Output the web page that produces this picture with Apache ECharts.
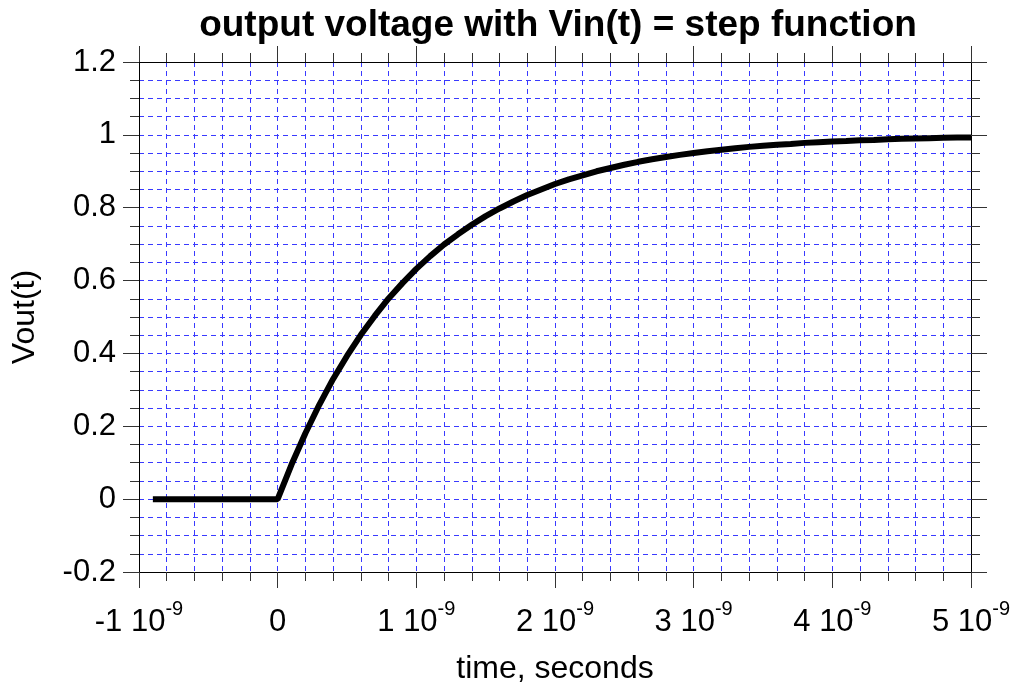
<!DOCTYPE html>
<html>
<head>
<meta charset="utf-8">
<script src="https://cdn.jsdelivr.net/npm/echarts@6/dist/echarts.min.js"></script>
<style>
  html, body { margin: 0; padding: 0; background: #fff; }
  #chart { width: 1018px; height: 690px; }
</style>
</head>
<body>
<div id="chart"></div>
<script>
// time in units of 1e-9 s
var timeNs = [-0.9, 0, 0.1, 0.2, 0.3, 0.4, 0.5, 0.6, 0.7, 0.8, 0.9,
  1.0, 1.1, 1.2, 1.3, 1.4, 1.5, 1.6, 1.7, 1.8, 1.9,
  2.0, 2.1, 2.2, 2.3, 2.4, 2.5, 2.6, 2.7, 2.8, 2.9,
  3.0, 3.1, 3.2, 3.3, 3.4, 3.5, 3.6, 3.7, 3.8, 3.9,
  4.0, 4.1, 4.2, 4.3, 4.4, 4.5, 4.6, 4.7, 4.8, 4.9, 5.0];
var vout = [0, 0, 0.095, 0.181, 0.259, 0.330, 0.393, 0.451, 0.503, 0.551, 0.593,
  0.632, 0.667, 0.699, 0.727, 0.753, 0.777, 0.798, 0.817, 0.835, 0.850,
  0.865, 0.878, 0.889, 0.900, 0.909, 0.918, 0.926, 0.933, 0.939, 0.945,
  0.950, 0.955, 0.959, 0.963, 0.967, 0.970, 0.973, 0.975, 0.978, 0.980,
  0.982, 0.983, 0.985, 0.986, 0.988, 0.989, 0.990, 0.991, 0.992, 0.993, 0.993];

var font = "Liberation Sans, Arial, Helvetica, sans-serif";
var gridBlue = "#3a3aff";

var data = [];
for (var i = 0; i < timeNs.length; i++) {
  data.push([timeNs[i], vout[i]]);
}

function xLabel(v) {
  if (v === 0) return "{m|0}";
  return "{m|" + v + " 10}{s|-9}";
}

var majorTick = { show: true, length: 16, lineStyle: { color: "#333", width: 1 } };
var minorTick = { show: true, length: 9, lineStyle: { color: "#333", width: 1 } };
var axisLine = { show: true, onZero: false, lineStyle: { color: "#000", width: 1 } };
var dashed = { show: true, lineStyle: { color: gridBlue, width: 1, type: [5, 4] } };

var chart = echarts.init(document.getElementById("chart"));
chart.setOption({
  animation: false,
  backgroundColor: "#fff",
  title: {
    text: "output voltage with Vin(t) = step function",
    left: 553,
    top: 2,
    textAlign: "center",
    textStyle: { fontFamily: font, fontSize: 37, fontWeight: "bold", color: "#000" }
  },
  grid: { left: 139, right: 47, top: 62, bottom: 117 },
  xAxis: [
    {
      type: "value",
      position: "bottom",
      min: -1,
      max: 5,
      interval: 1,
      axisLine: axisLine,
      axisTick: majorTick,
      minorTick: Object.assign({ splitNumber: 5 }, minorTick),
      splitLine: dashed,
      minorSplitLine: dashed,
      axisLabel: {
        margin: 27,
        color: "#000",
        formatter: xLabel,
        rich: {
          m: { fontFamily: font, fontSize: 31, lineHeight: 46, color: "#000" },
          s: { fontFamily: font, fontSize: 20, lineHeight: 22, verticalAlign: "top", color: "#000" }
        }
      },
      name: "time, seconds",
      nameLocation: "middle",
      nameGap: 81,
      nameTextStyle: { fontFamily: font, fontSize: 32, color: "#000" }
    },
    {
      type: "value",
      position: "top",
      min: -1,
      max: 5,
      interval: 1,
      axisLine: axisLine,
      axisTick: majorTick,
      minorTick: Object.assign({ splitNumber: 5 }, minorTick),
      splitLine: { show: false },
      axisLabel: { show: false }
    }
  ],
  yAxis: [
    {
      type: "value",
      position: "left",
      min: -0.2,
      max: 1.2,
      interval: 0.2,
      axisLine: axisLine,
      axisTick: majorTick,
      minorTick: Object.assign({ splitNumber: 4 }, minorTick),
      splitLine: dashed,
      minorSplitLine: dashed,
      axisLabel: {
        margin: 23,
        color: "#000",
        fontFamily: font,
        fontSize: 31,
        formatter: function (v) { return String(+v.toFixed(1)); }
      },
      name: "Vout(t)",
      nameLocation: "middle",
      nameGap: 98,
      nameTextStyle: { fontFamily: font, fontSize: 32, color: "#000" }
    },
    {
      type: "value",
      position: "right",
      min: -0.2,
      max: 1.2,
      interval: 0.2,
      axisLine: axisLine,
      axisTick: majorTick,
      minorTick: Object.assign({ splitNumber: 4 }, minorTick),
      splitLine: { show: false },
      axisLabel: { show: false }
    }
  ],
  series: [
    {
      type: "line",
      xAxisIndex: 0,
      yAxisIndex: 0,
      data: data,
      showSymbol: false,
      symbol: "none",
      smooth: false,
      lineStyle: { color: "#000", width: 6 },
      z: 5
    }
  ]
});
</script>
</body>
</html>
